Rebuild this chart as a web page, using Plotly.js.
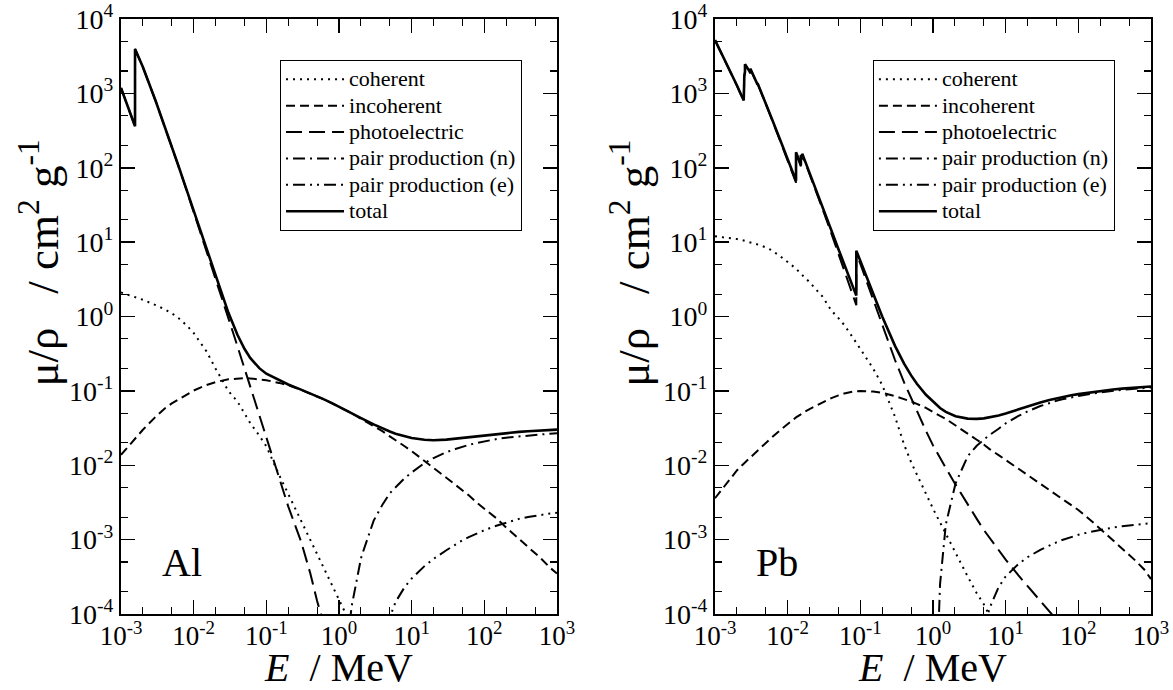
<!DOCTYPE html>
<html>
<head>
<meta charset="utf-8">
<script src="https://cdn.plot.ly/plotly-3.0.1.min.js"></script>
<style>
html,body{margin:0;padding:0;background:#fff;}
#chart{width:1173px;height:690px;}
</style>
</head>
<body>
<div id="chart"></div>
<script>
// ---------- Data (MeV, cm^2/g) ----------
const SERIES_NAMES = ['coherent', 'incoherent', 'photoelectric', 'pair production (n)', 'pair production (e)', 'total'];
const PANEL_LABELS = ['Al', 'Pb'];
const X_TITLE = '<i>E</i>\u00a0\u00a0/ MeV';
const Y_TITLE = 'μ/ρ\u00a0\u00a0\u00a0/\u00a0cm<sup>2</sup>\u00a0g<sup>-1</sup>';
const X_TICKVALS = [1e-3, 1e-2, 1e-1, 1, 10, 100, 1000];
const X_TICKTEXT = ['10<sup>-3</sup>', '10<sup>-2</sup>', '10<sup>-1</sup>', '10<sup>0</sup>', '10<sup>1</sup>', '10<sup>2</sup>', '10<sup>3</sup>'];
const Y_TICKVALS = [1e-4, 1e-3, 1e-2, 1e-1, 1, 10, 100, 1000, 10000];
const Y_TICKTEXT = ['10<sup>-4</sup>', '10<sup>-3</sup>', '10<sup>-2</sup>', '10<sup>-1</sup>', '10<sup>0</sup>', '10<sup>1</sup>', '10<sup>2</sup>', '10<sup>3</sup>', '10<sup>4</sup>'];

// Aluminium
const E_AL = [0.001, 0.0015, 0.0015596, 0.0015596, 0.002, 0.003, 0.004, 0.005, 0.006, 0.008,
  0.01, 0.015, 0.02, 0.03, 0.04, 0.05, 0.06, 0.08, 0.1, 0.15,
  0.2, 0.3, 0.4, 0.5, 0.6, 0.8, 1, 1.022, 1.25, 1.5,
  2, 2.044, 3, 4, 5, 6, 8, 10, 15, 20,
  30, 40, 50, 60, 80, 100, 150, 200, 300, 400,
  500, 600, 800, 1000];
const COH_AL = [2.1, 1.85, 1.82, 1.82, 1.68, 1.42, 1.25, 1.1, 0.98, 0.76,
  0.6, 0.34, 0.2, 0.1, 0.072, 0.05, 0.037, 0.025, 0.018, 0.0074,
  0.0041, 0.0018, 0.00102, 0.00065, 0.00045, 0.00025, 0.000155, 0.00015, 0.000098, 0.000068,
  0.000038, null, null, null, null, null, null, null, null, null,
  null, null, null, null, null, null, null, null, null, null,
  null, null, null, null];
const INC_AL = [0.0138, 0.0215, 0.0225, 0.0225, 0.030, 0.045, 0.058, 0.068, 0.076, 0.090,
  0.101, 0.120, 0.131, 0.143, 0.147, 0.148, 0.147, 0.143, 0.139, 0.128,
  0.119, 0.103, 0.092, 0.084, 0.078, 0.068, 0.061, 0.0605, 0.055, 0.050,
  0.042, 0.0415, 0.0335, 0.0285, 0.0245, 0.0215, 0.0180, 0.0155, 0.0113, 0.0092,
  0.0068, 0.0055, 0.0046, 0.0040, 0.0031, 0.0026, 0.0019, 0.00145, 0.00102, 0.00080,
  0.00066, 0.00056, 0.00042, 0.00035];
const PHO_AL = [1183, 400, 360, 3955, 2260, 786, 359, 192, 114, 49.6,
  25.7, 7.65, 3.2, 0.95, 0.40, 0.2, 0.115, 0.047, 0.023, 0.0066,
  0.0028, 0.00095, 0.00036, 0.00015, 0.00008, 0.00004, null, null, null, null,
  null, null, null, null, null, null, null, null, null, null,
  null, null, null, null, null, null, null, null, null, null,
  null, null, null, null];
const PN_AL = [null, null, null, null, null, null, null, null, null, null,
  null, null, null, null, null, null, null, null, null, null,
  null, null, null, null, null, null, null, null, 0.00003, 0.00013,
  0.00055, 0.0006, 0.0018, 0.0030, 0.0042, 0.0051, 0.0067, 0.0080, 0.0107, 0.0125,
  0.0150, 0.0165, 0.0178, 0.0187, 0.0200, 0.0210, 0.0226, 0.0235, 0.0245, 0.0252,
  0.0257, 0.0260, 0.0266, 0.0270];
const PE_AL = [null, null, null, null, null, null, null, null, null, null,
  null, null, null, null, null, null, null, null, null, null,
  null, null, null, null, null, null, null, null, null, null,
  null, null, 0.000008, 0.00004, 0.00009, 0.000145, 0.00023, 0.00030, 0.00044, 0.00055,
  0.00072, 0.00086, 0.00098, 0.00107, 0.00122, 0.00134, 0.00155, 0.00170, 0.00190, 0.00202,
  0.00210, 0.00216, 0.00224, 0.00230];
const TOT_AL = [1185, 402, 362, 3957, 2263, 788, 360, 193, 115, 50.3,
  26.2, 7.96, 3.44, 1.13, 0.569, 0.368, 0.278, 0.202, 0.170, 0.138,
  0.122, 0.104, 0.0928, 0.0845, 0.078, 0.0684, 0.0615, 0.0608, 0.055, 0.050,
  0.0432, 0.0428, 0.0354, 0.0311, 0.0284, 0.0266, 0.0244, 0.0232, 0.0220, 0.0217,
  0.0221, 0.0228, 0.0234, 0.0239, 0.0248, 0.0254, 0.0265, 0.0272, 0.0281, 0.0287,
  0.0291, 0.0294, 0.0298, 0.0301];

// Lead
const E_PB = [0.001, 0.0015, 0.002, 0.002484, 0.002484, 0.002534, 0.002586, 0.002586, 0.003, 0.0030664,
  0.0030664, 0.0033013, 0.0035542, 0.0035542, 0.0036995, 0.0038507, 0.0038507, 0.004, 0.005, 0.006,
  0.008, 0.01, 0.0130352, 0.0130352, 0.015, 0.0152, 0.0152, 0.0155269, 0.0158608, 0.0158608,
  0.02, 0.03, 0.04, 0.05, 0.06, 0.08, 0.0880045, 0.0880045, 0.1, 0.15,
  0.2, 0.3, 0.4, 0.5, 0.6, 0.8, 1, 1.022, 1.25, 1.5,
  2, 2.044, 3, 4, 5, 6, 8, 10, 15, 20,
  30, 40, 50, 60, 80, 100, 150, 200, 300, 400,
  500, 600, 800, 1000];
const COH_PB = [12, 11.5, 11, 10.5, 10.5, 10.45, 10.4, 10.4, 10.0, 9.95,
  9.95, 9.8, 9.6, 9.6, 9.5, 9.4, 9.4, 9.2, 8.5, 7.8,
  6.4, 5.4, 4.4, 4.4, 3.8, 3.75, 3.75, 3.7, 3.6, 3.6,
  2.9, 1.86, 1.2, 0.95, 0.77, 0.51, 0.44, 0.44, 0.36, 0.2,
  0.12, 0.045, 0.019, 0.011, 0.0075, 0.0041, 0.0026, 0.0025, 0.0017, 0.0012,
  0.00068, 0.00065, 0.00032, 0.00019, 0.000135, 0.000095, 0.000055, null, null, null,
  null, null, null, null, null, null, null, null, null, null,
  null, null, null, null];
const INC_PB = [0.0036, 0.0060, 0.0085, 0.0105, 0.0105, 0.0107, 0.0109, 0.0109, 0.0125, 0.0128,
  0.0128, 0.0137, 0.0146, 0.0146, 0.0152, 0.0158, 0.0158, 0.0163, 0.020, 0.0235,
  0.030, 0.036, 0.044, 0.044, 0.048, 0.0485, 0.0485, 0.049, 0.050, 0.050,
  0.057, 0.070, 0.080, 0.087, 0.092, 0.098, 0.099, 0.099, 0.100, 0.098,
  0.094, 0.085, 0.078, 0.072, 0.067, 0.059, 0.052, 0.0515, 0.046, 0.042,
  0.035, 0.0345, 0.027, 0.022, 0.019, 0.0165, 0.0137, 0.0118, 0.0090, 0.0074,
  0.0056, 0.0046, 0.0040, 0.0035, 0.0029, 0.0025, 0.0018, 0.0014, 0.00098, 0.00076,
  0.00062, 0.00053, 0.00040, 0.000295];
const PHO_PB = [5197, 2344, 1274, 790, 1387, 1716, 1934, 2448, 1955, 1847,
  2136, 1786, 1486, 1575, 1432, 1301, 1358, 1241, 721, 459,
  222, 125, 63, 158, 107.7, 104.5, 145, 136.4, 129.3, 151,
  83.4, 28.4, 13.0, 7.0, 4.2, 1.9, 1.42, 7.2, 5.1, 1.73,
  0.79, 0.26, 0.13, 0.080, 0.052, 0.029, 0.0185, 0.0178, 0.0125, 0.0092,
  0.0057, 0.0055, 0.0030, 0.0019, 0.00135, 0.00105, 0.00072, 0.00054, 0.00033, 0.00024,
  0.00015, 0.000108, 0.000084, null, null, null, null, null, null, null,
  null, null, null, null];
const PN_PB = [null, null, null, null, null, null, null, null, null, null,
  null, null, null, null, null, null, null, null, null, null,
  null, null, null, null, null, null, null, null, null, null,
  null, null, null, null, null, null, null, null, null, null,
  null, null, null, null, null, null, null, 0.000001, 0.00025, 0.0016,
  0.0053, 0.0057, 0.0132, 0.0183, 0.0221, 0.0255, 0.031, 0.0365, 0.046, 0.053,
  0.0625, 0.069, 0.0735, 0.077, 0.082, 0.0855, 0.0915, 0.0955, 0.1005, 0.1035,
  0.1055, 0.107, 0.1095, 0.111];
const PE_PB = [null, null, null, null, null, null, null, null, null, null,
  null, null, null, null, null, null, null, null, null, null,
  null, null, null, null, null, null, null, null, null, null,
  null, null, null, null, null, null, null, null, null, null,
  null, null, null, null, null, null, null, null, null, null,
  null, null, 0.000003, 0.00002, 0.00006, 0.00012, 0.00023, 0.00032, 0.00047, 0.00058,
  0.00073, 0.00084, 0.00092, 0.00099, 0.00109, 0.00116, 0.00128, 0.00136, 0.00145, 0.00151,
  0.00155, 0.00158, 0.00163, 0.00166];
const TOT_PB = [5210, 2356, 1285, 800.6, 1397, 1726, 1944, 2458, 1965, 1857,
  2146, 1796, 1496, 1585, 1442, 1311, 1368, 1251, 730.4, 467.2,
  228.7, 130.6, 67.01, 162.1, 111.6, 108.4, 148.7, 140.2, 133.1, 154.8,
  86.36, 30.32, 14.36, 8.041, 5.021, 2.419, 1.910, 7.683, 5.549, 2.014,
  0.9985, 0.4031, 0.2323, 0.1614, 0.1248, 0.0887, 0.07102, 0.0699, 0.05876, 0.05222,
  0.04606, 0.0457, 0.04234, 0.04197, 0.04272, 0.04391, 0.04675, 0.04972, 0.05658, 0.06206,
  0.0696, 0.0752, 0.0794, 0.0826, 0.0873, 0.0905, 0.0960, 0.0997, 0.1045, 0.1073,
  0.1092, 0.1106, 0.1128, 0.1143];

// ---------- Styles ----------
const FONT = '"Liberation Serif", "Times New Roman", Times, serif';
const LEGEND_TEXT_SIZE = 22;   // drawn size of legend labels
const LEGEND_ROW_SIZE = 18;    // size used for the legend row spacing
const STYLES = [
  {dash: '2px,5px', width: 2},
  {dash: '9px,5px', width: 2},
  {dash: '16px,7px', width: 2},
  {dash: '2px,5px,12px,5px', width: 2},
  {dash: '2px,5px,12px,5px,2px,5px', width: 2},
  {dash: 'solid', width: 2.6}
];

function makeTraces(E, series, xa, ya, leg) {
  return series.map((y, i) => ({
    type: 'scatter', mode: 'lines', x: E, y: y,
    name: '<span style="font-size:' + LEGEND_TEXT_SIZE + 'px">' + SERIES_NAMES[i] + '</span>',
    xaxis: xa, yaxis: ya, legend: leg, connectgaps: false,
    line: {color: 'black', width: STYLES[i].width, dash: STYLES[i].dash},
    hoverinfo: 'skip'
  }));
}

const data = [].concat(
  makeTraces(E_AL, [COH_AL, INC_AL, PHO_AL, PN_AL, PE_AL, TOT_AL], 'x', 'y', 'legend'),
  makeTraces(E_PB, [COH_PB, INC_PB, PHO_PB, PN_PB, PE_PB, TOT_PB], 'x2', 'y2', 'legend2')
);

function xAxis(domain, anchor) {
  return {
    type: 'log', range: [-3, 3], domain: domain, anchor: anchor,
    showline: true, linewidth: 2, linecolor: 'black', mirror: 'allticks',
    ticks: 'inside', ticklen: 14, tickwidth: 1.5, tickcolor: 'black',
    tickmode: 'array', tickvals: X_TICKVALS, ticktext: X_TICKTEXT,
    tickfont: {family: FONT, size: 27, color: 'black'},
    ticklabelstandoff: -3,
    minor: {ticks: 'inside', ticklen: 7, tickwidth: 1.2, tickcolor: 'black', showgrid: false},
    showgrid: false, zeroline: false,
    title: {text: X_TITLE, font: {family: FONT, size: 40, color: 'black'}, standoff: 5}
  };
}
function yAxis(anchor) {
  return {
    type: 'log', range: [-4, 4], domain: [0, 1], anchor: anchor,
    showline: true, linewidth: 2, linecolor: 'black', mirror: 'allticks',
    ticks: 'inside', ticklen: 14, tickwidth: 1.5, tickcolor: 'black',
    tickmode: 'array', tickvals: Y_TICKVALS, ticktext: Y_TICKTEXT,
    tickfont: {family: FONT, size: 28, color: 'black'},
    minor: {ticks: 'inside', ticklen: 7, tickwidth: 1.2, tickcolor: 'black', showgrid: false},
    showgrid: false, zeroline: false
  };
}
function legendBox(x) {
  return {
    x: x, y: 0.931, xanchor: 'left', yanchor: 'top',
    bordercolor: 'black', borderwidth: 1, bgcolor: 'white',
    font: {family: FONT, size: LEGEND_ROW_SIZE, color: 'black'},
    itemwidth: 58,
    tracegroupgap: 0, itemclick: false, itemdoubleclick: false
  };
}
function yTitle(x) {
  return {xref: 'paper', yref: 'paper', x: x, y: 0.59, xanchor: 'center', yanchor: 'middle',
    textangle: -90, text: Y_TITLE, showarrow: false, font: {family: FONT, size: 45, color: 'black'}};
}
function panelLabel(i) {
  const s = i === 0 ? '' : '2';
  return {xref: 'x' + s + ' domain', yref: 'y' + s + ' domain', x: 0.09, y: 0.087, xanchor: 'left', yanchor: 'middle',
    text: PANEL_LABELS[i], showarrow: false, font: {family: FONT, size: 40, color: 'black'}};
}

const layout = {
  width: 1173, height: 690,
  margin: {l: 121, r: 22, t: 19, b: 76, autoexpand: false},
  paper_bgcolor: 'white', plot_bgcolor: 'white',
  font: {family: FONT, color: 'black'},
  showlegend: true,
  xaxis: xAxis([0, 0.4233], 'y'),
  yaxis: yAxis('x'),
  xaxis2: xAxis([0.5767, 1], 'y2'),
  yaxis2: yAxis('x2'),
  legend: legendBox(0.1544),
  legend2: legendBox(0.730),
  annotations: [yTitle(-0.079), yTitle(0.495), panelLabel(0), panelLabel(1)]
};

Plotly.newPlot('chart', data, layout, {staticPlot: true, displayModeBar: false});
</script>
</body>
</html>
